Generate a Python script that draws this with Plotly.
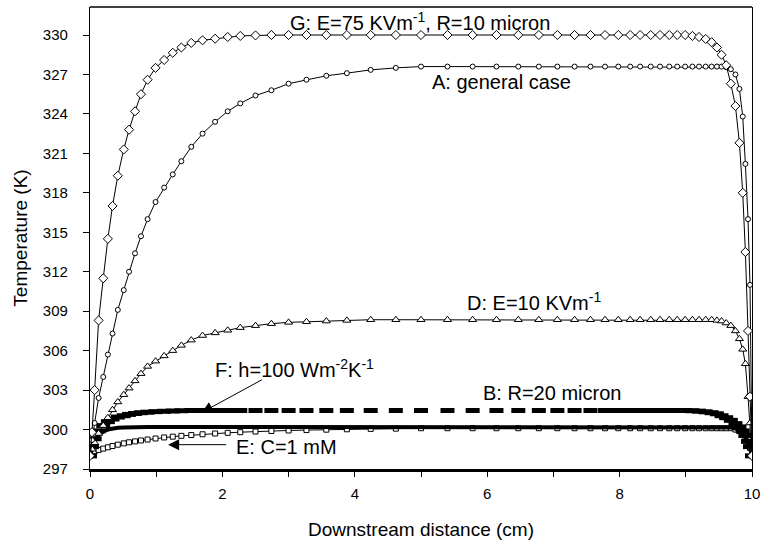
import plotly.graph_objects as go

# shared downstream grid (cm)
x_grid = [0, 0.03, 0.07, 0.13, 0.2, 0.27, 0.34, 0.42, 0.51, 0.59,
          0.68, 0.77, 0.87, 0.99, 1.12, 1.25, 1.38, 1.53, 1.70, 1.89,
          2.08, 2.27, 2.50, 2.74, 3.00, 3.27, 3.57, 3.88, 4.24, 4.62,
          5.00, 5.40, 5.78, 6.14, 6.47, 6.78, 7.06, 7.32, 7.56, 7.78,
          7.98, 8.16, 8.31, 8.47, 8.61, 8.75, 8.87, 8.99, 9.10, 9.20,
          9.30, 9.39, 9.47, 9.54, 9.61, 9.68, 9.75, 9.81, 9.86, 9.90,
          9.94, 9.97, 10.0]

# G: E=75 KV/m, R=10 micron (diamonds)
temp_G = [298.0, 299.8, 303.0, 308.3, 311.5, 314.5, 317.0, 319.3, 321.3, 322.8,
          324.2, 325.5, 326.6, 327.5, 328.1, 328.65, 329.05, 329.4, 329.6, 329.72,
          329.85, 329.93, 329.97, 330.0, 330.0, 330.0, 330.0, 330.0, 330.0, 330.0,
          330.0, 330.0, 330.0, 330.0, 330.0, 330.0, 330.0, 330.0, 330.0, 330.0,
          330.0, 330.0, 330.0, 330.0, 330.0, 330.0, 330.0, 330.0, 329.93, 329.85,
          329.7, 329.45, 329.05, 328.5, 327.7, 326.3, 324.6, 321.8, 318.0, 313.5,
          307.5, 302.5, 298.0]

# A: general case (circles)
temp_A = [298.0, 299.2, 300.5, 302.4, 304.0, 305.7, 307.3, 309.1, 310.6, 312.0,
          313.4, 314.7, 316.0, 317.3, 318.4, 319.4, 320.4, 321.5, 322.5, 323.4,
          324.2, 324.8, 325.4, 325.8, 326.3, 326.6, 326.9, 327.1, 327.35, 327.5,
          327.6, 327.6, 327.6, 327.6, 327.6, 327.6, 327.6, 327.6, 327.6, 327.6,
          327.6, 327.6, 327.6, 327.6, 327.6, 327.6, 327.6, 327.6, 327.6, 327.6,
          327.6, 327.6, 327.6, 327.6, 327.55, 327.4, 327.0, 325.9, 323.8, 320.2,
          316.0, 311.0, 298.0]

# D: E=10 KV/m (triangles)
temp_D = [298.0, 298.5, 299.0, 299.7, 300.3, 300.9, 301.5, 302.1, 302.65, 303.15,
          303.7, 304.25, 304.8, 305.2, 305.6, 306.0, 306.4, 306.8, 307.15, 307.35,
          307.55, 307.75, 307.9, 308.05, 308.15, 308.2, 308.25, 308.3, 308.35, 308.35,
          308.35, 308.35, 308.35, 308.35, 308.35, 308.35, 308.35, 308.35, 308.35, 308.35,
          308.35, 308.35, 308.35, 308.35, 308.35, 308.35, 308.35, 308.35, 308.35, 308.35,
          308.35, 308.35, 308.3, 308.25, 308.1, 307.9, 307.5, 306.9, 306.1, 305.0,
          302.5, 300.5, 298.0]

# F: h=100 W/m2K (thick dashes)
temp_F = [298.0, 298.7, 299.3, 299.9, 300.3, 300.6, 300.8, 300.95, 301.05, 301.15,
          301.22, 301.28, 301.32, 301.36, 301.39, 301.41, 301.43, 301.45, 301.45, 301.45,
          301.45, 301.45, 301.45, 301.45, 301.45, 301.45, 301.45, 301.45, 301.45, 301.45,
          301.45, 301.45, 301.45, 301.45, 301.45, 301.45, 301.45, 301.45, 301.45, 301.45,
          301.45, 301.45, 301.45, 301.45, 301.45, 301.45, 301.45, 301.45, 301.43, 301.4,
          301.35, 301.28, 301.2, 301.05, 300.9, 300.7, 300.45, 300.2, 299.9, 299.55,
          299.1, 298.7, 298.0]

# B: R=20 micron (thick solid)
temp_B = [298.0, 298.6, 299.2, 299.6, 299.85, 300.0, 300.08, 300.13, 300.16, 300.18,
          300.2, 300.2, 300.2, 300.2, 300.2, 300.2, 300.2, 300.2, 300.2, 300.2,
          300.2, 300.2, 300.2, 300.2, 300.2, 300.2, 300.2, 300.2, 300.2, 300.2,
          300.2, 300.2, 300.2, 300.2, 300.2, 300.2, 300.2, 300.2, 300.2, 300.2,
          300.2, 300.2, 300.2, 300.2, 300.2, 300.2, 300.2, 300.2, 300.2, 300.2,
          300.2, 300.2, 300.2, 300.2, 300.2, 300.15, 300.08, 299.95, 299.75, 299.45,
          299.05, 298.6, 298.0]

# E: C=1 mM (squares)
temp_E = [298.0, 298.2, 298.35, 298.45, 298.55, 298.65, 298.75, 298.85, 298.95, 299.03,
          299.1, 299.17, 299.24, 299.32, 299.4, 299.46, 299.52, 299.58, 299.64, 299.7,
          299.75, 299.8, 299.85, 299.89, 299.93, 299.96, 299.99, 300.02, 300.05, 300.07,
          300.1, 300.1, 300.1, 300.1, 300.1, 300.1, 300.1, 300.1, 300.1, 300.1,
          300.1, 300.1, 300.1, 300.1, 300.1, 300.1, 300.1, 300.1, 300.1, 300.1,
          300.1, 300.1, 300.1, 300.1, 300.1, 300.1, 300.0, 299.88, 299.7, 299.45,
          299.05, 298.6, 298.0]

y_ticks = [297, 300, 303, 306, 309, 312, 315, 318, 321, 324, 327, 330]
x_ticks = [0, 2, 4, 6, 8, 10]

FONT = "Liberation Sans, Arial, sans-serif"

fig = go.Figure()

def add_marked(y, symbol, size):
    fig.add_trace(go.Scatter(
        x=x_grid, y=y, mode="lines+markers",
        line=dict(color="black", width=1),
        marker=dict(symbol=symbol, size=size, color="white",
                    line=dict(color="black", width=1)),
        showlegend=False, hoverinfo="skip"))

add_marked(temp_E, "square", 5)
fig.add_trace(go.Scatter(x=x_grid, y=temp_B, mode="lines",
                         line=dict(color="black", width=4),
                         showlegend=False, hoverinfo="skip"))
fig.add_trace(go.Scatter(x=x_grid, y=temp_F, mode="markers",
                         marker=dict(symbol="line-ew", size=10, color="black",
                                     line=dict(color="black", width=5)),
                         showlegend=False, hoverinfo="skip"))
add_marked(temp_D, "triangle-up", 7)
add_marked(temp_A, "circle", 5)
add_marked(temp_G, "diamond", 7)

ann_font = dict(family=FONT, size=20, color="black")
annotations = [
    dict(x=4.99, y=331.0, text="G: E=75 KVm<sup>-1</sup>, R=10 micron", showarrow=False, font=ann_font),
    dict(x=6.22, y=326.45, text="A: general case", showarrow=False, font=ann_font),
    dict(x=6.70, y=309.75, text="D: E=10 KVm<sup>-1</sup>", showarrow=False, font=ann_font),
    dict(x=6.98, y=302.8, text="B: R=20 micron", showarrow=False, font=ann_font),
    dict(x=3.09, y=304.65, text="F: h=100 Wm<sup>-2</sup>K<sup>-1</sup>", showarrow=False, font=ann_font),
    dict(x=2.17, y=298.7, text="E: C=1 mM", showarrow=False, font=ann_font, xanchor="left"),
    # arrows
    dict(x=1.69, y=301.3, ax=2.62, ay=303.85, axref="x", ayref="y", xref="x", yref="y",
         text="", showarrow=True, arrowhead=2, arrowsize=2.2, arrowwidth=1, arrowcolor="black"),
    dict(x=1.18, y=298.85, ax=2.08, ay=298.85, axref="x", ayref="y", xref="x", yref="y",
         text="", showarrow=True, arrowhead=2, arrowsize=2.2, arrowwidth=1, arrowcolor="black"),
]

fig.update_layout(
    width=767, height=548,
    margin=dict(l=90, r=15, t=7, b=79),
    paper_bgcolor="white", plot_bgcolor="white",
    font=dict(family=FONT, size=15, color="black"),
    annotations=annotations,
    shapes=[dict(type="line", xref="paper", yref="paper", x0=0, x1=1, y0=1, y1=1,
                 line=dict(color="black", width=1.3))],
    xaxis=dict(range=[0, 10], tickvals=x_ticks, ticks="outside", ticklen=5,
               tickcolor="black", showline=True, linecolor="black", linewidth=2.5,
               showgrid=False, zeroline=False, ticklabelstandoff=4,
               minor=dict(dtick=1, ticks="outside", ticklen=5, tickcolor="black", showgrid=False),
               title=dict(text="Downstream distance (cm)", font=dict(size=19), standoff=22),
               tickfont=dict(size=15)),
    yaxis=dict(range=[297, 332.13], tickvals=y_ticks, ticks="outside", ticklen=6,
               tickcolor="black", showline=True, linecolor="black", linewidth=1.3,
               mirror=True, showgrid=False, zeroline=False, ticklabelstandoff=12,
               title=dict(text="Temperature (K)", font=dict(size=19), standoff=10),
               tickfont=dict(size=15)),
)

fig.write_html("out.html", config={"displayModeBar": False},
               post_script="document.body.style.margin='0';document.body.style.overflow='hidden';")
